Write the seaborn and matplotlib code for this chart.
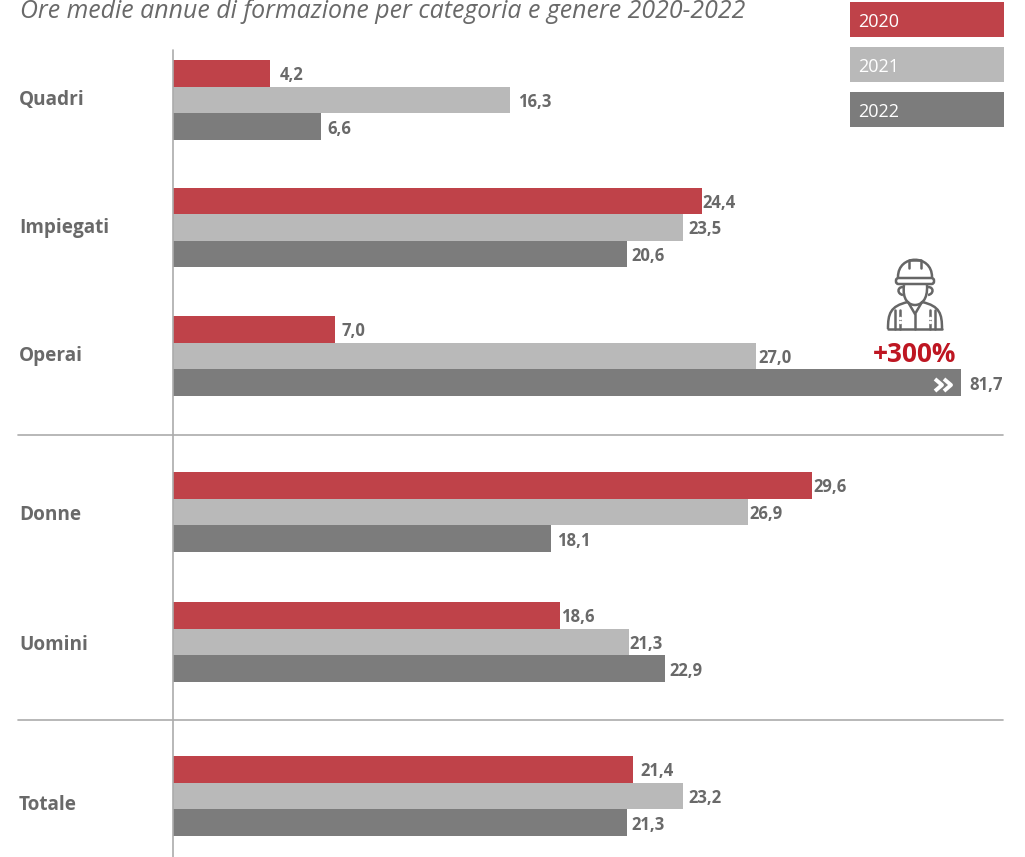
import numpy as np
import pandas as pd
import matplotlib
matplotlib.use("Agg")
import matplotlib.pyplot as plt
from matplotlib.patches import Rectangle, PathPatch, FancyBboxPatch
from matplotlib.path import Path
import seaborn as sns

# categories and printed values
categories = ["Quadri", "Impiegati", "Operai", "Donne", "Uomini", "Totale"]
years = ["2020", "2021", "2022"]
labels_2020 = ["4,2", "24,4", "7,0", "29,6", "18,6", "21,4"]
labels_2021 = ["16,3", "23,5", "27,0", "26,9", "21,3", "23,2"]
labels_2022 = ["6,6", "20,6", "81,7", "18,1", "22,9", "21,3"]

# bar lengths as drawn in the picture (the 81,7 bar is cut short in the original)
drawn_2020 = [4.5, 24.5, 7.5, 29.6, 17.9, 21.3]
drawn_2021 = [15.6, 23.6, 27.0, 26.6, 21.1, 23.6]
drawn_2022 = [6.85, 21.0, 36.5, 17.5, 22.8, 21.0]

# vertical layout is uneven, groups are split by rules (units = pixels)
group_y = [100, 227.5, 356, 512, 642, 796]
label_y = [98, 226, 354, 513, 642, 802]
rule_y = [435, 720]

# gap between bar end and its label, pixels
pad_2020 = [10, 0, 7, 1, 1, 7]
pad_2021 = [8, 6, 2, 2, 1, 6]
pad_2022 = [6, 5, 8, 6, 4, 5]

colors = ["#bf4249", "#b9b9b9", "#7c7c7c"]
text_grey = "#696969"
line_grey = "#ababab"
icon_grey = "#666666"

sns.set_theme(style="white")
plt.rcParams["font.family"] = ["Open Sans", "DejaVu Sans"]

df = pd.DataFrame({
    "pos": group_y * 3,
    "ore": drawn_2020 + drawn_2021 + drawn_2022,
    "anno": sum([[y] * len(categories) for y in years], []),
})

W, H = 1025, 857
fig = plt.figure(figsize=(W / 100, H / 100), dpi=100)
fig.patch.set_facecolor("white")

# overlay in pixel coordinates for rules, legend and icon
over = fig.add_axes([0, 0, 1, 1])
over.set_xlim(0, W)
over.set_ylim(H, 0)
over.axis("off")

# bar axes: starts at x=173, runs from y=50 to the bottom
x0, y0 = 173, 50
ax = fig.add_axes([x0 / W, 0, (W - x0) / W, (H - y0) / H])
ax.patch.set_alpha(0)
sns.barplot(data=df, y="pos", x="ore", hue="anno", hue_order=years, orient="y",
            native_scale=True, palette=colors, saturation=1, width=80 / 128,
            gap=0, legend=False, linewidth=0, ax=ax)
ax.set_xlim(0, (W - x0) / 21.6)
ax.set_ylim(H, y0)
ax.set_xlabel("")
ax.set_ylabel("")
ax.set_xticks([])
ax.set_yticks(label_y, categories, fontsize=13.7, fontweight="bold", color=text_grey, ha="left")
ax.tick_params(axis="y", length=0, pad=154 * 0.72)
for s in ["top", "right", "bottom", "left"]:
    ax.spines[s].set_visible(False)

# value labels
bar_h = 80 / 3
for i, (drawn, labs, pads) in enumerate([(drawn_2020, labels_2020, pad_2020),
                                         (drawn_2021, labels_2021, pad_2021),
                                         (drawn_2022, labels_2022, pad_2022)]):
    for d, lab, p, y in zip(drawn, labs, pads, group_y):
        ax.annotate(lab, (d, y + (i - 1) * bar_h + 2), xytext=(p, 0), textcoords="offset pixels",
                    ha="left", va="center", fontsize=12, fontweight="bold", color=text_grey)

# rules
over.plot([172.5, 172.5], [y0, H], color=line_grey, lw=1.2)
for ry in rule_y:
    over.plot([18, 1003], [ry, ry], color=line_grey, lw=1.2)

over.text(20, 11, "Ore medie annue di formazione per categoria e genere 2020-2022",
          fontsize=17.9, fontstyle="italic", color=text_grey, ha="left", va="center")

# legend boxes
for yr, col, top in zip(years, colors, [2, 47, 92]):
    over.add_patch(Rectangle((850, top), 154, 35, color=col, lw=0))
    over.text(858, top + 20, yr, color="white", fontsize=13, ha="left", va="center")

# worker icon
ic = dict(color=icon_grey, lw=1.8, solid_capstyle="round")


def curve(verts):
    codes = [Path.MOVETO] + [Path.CURVE4] * (len(verts) - 1)
    over.add_patch(PathPatch(Path(verts, codes), fc="none", ec=icon_grey, lw=1.8))


curve([(898, 277), (898, 254), (932, 254), (932, 277)])  # dome
over.plot([909, 909, 921, 921], [268, 259.5, 259.5, 268], **ic)  # ridge
over.add_patch(FancyBboxPatch((896, 278), 38, 6, boxstyle="round,pad=0,rounding_size=2.5",
                              fc="white", ec=icon_grey, lw=1.8))
curve([(904, 285), (902, 300), (909, 305), (915, 305)])  # face
curve([(927, 285), (928, 300), (921, 305), (915, 305)])
curve([(903, 287), (897, 287), (897, 294), (903, 295)])  # ears
curve([(928, 287), (934, 287), (934, 294), (928, 295)])
curve([(888, 329), (888, 314), (890, 306), (908, 302)])  # shoulders
curve([(942, 329), (942, 314), (940, 306), (922, 302)])
over.plot([888, 942], [329, 329], **ic)
over.plot([908, 915, 922], [302, 314, 302], **ic)
over.plot([915, 915], [314, 329], **ic)
for sx in [895, 900, 930, 935]:
    over.plot([sx, sx], [310, 329], **ic)
over.plot([900, 900, 930, 930], [318, 322, 318, 322], ls="", marker="o", ms=1.5, color="white")

over.text(914.5, 354.5, "+300%", color="#be1622", fontsize=18.9, fontweight="bold", ha="center", va="center")

# chevrons on the cut bar
for cx in [935, 944]:
    over.plot([cx, cx + 7, cx], [379, 385, 391], color="white", lw=2.8, solid_capstyle="butt", zorder=5)
over.set_zorder(ax.get_zorder() + 1)

fig.savefig("out.png", dpi=100)
